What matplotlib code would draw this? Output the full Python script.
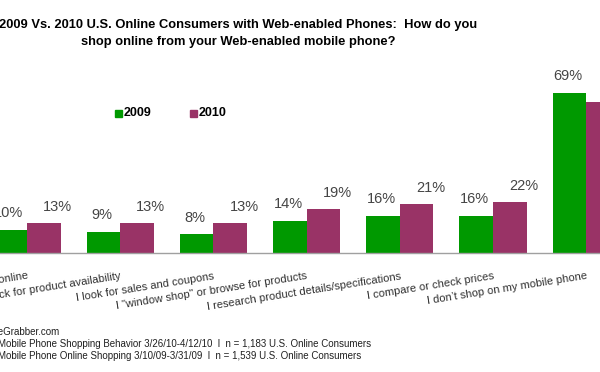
import matplotlib
matplotlib.use('Agg')
import matplotlib.pyplot as plt
import numpy as np

plt.rcParams['font.family'] = ['Liberation Sans', 'DejaVu Sans']

#%% data
categories = ['I purchase products online',
              'I check for product availability',
              'I look for sales and coupons',
              'I "window shop" or browse for products',
              'I research product details/specifications',
              'I compare or check prices',
              'I don\u2019t shop on my mobile phone']
values_2009 = [10, 9, 8, 14, 16, 16, 69]
values_2010 = [13, 13, 13, 19, 21, 22, 65]
label_2010 = ['13%', '13%', '13%', '19%', '21%', '22%', '65%']

green = '#009900'
purple = '#993366'

#%% plot
fig = plt.figure(figsize=(6, 3.72), dpi=100)
ax = fig.add_axes([0, 0, 1, 1])
ax.set_xlim(-0.29, 6.148)
ax.set_ylim(-51.3, 109.05)
ax.axis('off')

x = np.arange(len(categories))
w = 0.36
b1 = ax.bar(x - w/2, values_2009, w, color=green)
b2 = ax.bar(x + w/2, values_2010, w, color=purple)
ax.plot([-0.5, 6.5], [0, 0], color='#a0a0a0', lw=1)

for rect, v in zip(b1, values_2009):
    ax.annotate('%d%%' % v, (rect.get_x() + rect.get_width()/2, v),
                xytext=(-1, 7), textcoords='offset points', ha='center',
                va='bottom', fontsize=10.5, color='#454545')
for rect, v, t in zip(b2, values_2010, label_2010):
    ax.annotate(t, (rect.get_x() + rect.get_width()/2, v),
                xytext=(10, 6.5), textcoords='offset points', ha='center',
                va='bottom', fontsize=10.5, color='#454545')

for i, c in enumerate(categories):
    ax.annotate(c, (i, 0), xytext=(0, -13), textcoords='offset points',
                ha='right', va='top', rotation=9, rotation_mode='anchor',
                fontsize=8, color='#303030')

#title
fig.text(238/600, 1 - 25/372, '2009 Vs. 2010 U.S. Online Consumers with Web-enabled Phones:  How do you',
         ha='center', va='center', fontsize=9.25, fontweight='bold')
fig.text(238/600, 1 - 42/372, 'shop online from your Web-enabled mobile phone?',
         ha='center', va='center', fontsize=9.25, fontweight='bold')

#legend
fig.patches.append(plt.Rectangle((115/600, 1 - 117/372), 7/600, 7/372,
                                 transform=fig.transFigure, color=green))
fig.text(124/600, 1 - 113/372, '2009', ha='left', va='center',
         fontsize=9, fontweight='bold')
fig.patches.append(plt.Rectangle((190/600, 1 - 117/372), 7/600, 7/372,
                                 transform=fig.transFigure, color=purple))
fig.text(199/600, 1 - 113/372, '2010', ha='left', va='center',
         fontsize=9, fontweight='bold')

#sources
fig.text(59/600, 1 - 332/372, 'Source: PriceGrabber.com', ha='right',
         va='center', fontsize=7, color='#202020')
fig.text(-2/600, 1 - 344/372,
         'Mobile Phone Shopping Behavior 3/26/10-4/12/10  l  n = 1,183 U.S. Online Consumers',
         ha='left', va='center', fontsize=7, color='#202020')
fig.text(-2/600, 1 - 356/372,
         'Mobile Phone Online Shopping 3/10/09-3/31/09  l  n = 1,539 U.S. Online Consumers',
         ha='left', va='center', fontsize=7, color='#202020')

fig.savefig('out.png', dpi=100)
